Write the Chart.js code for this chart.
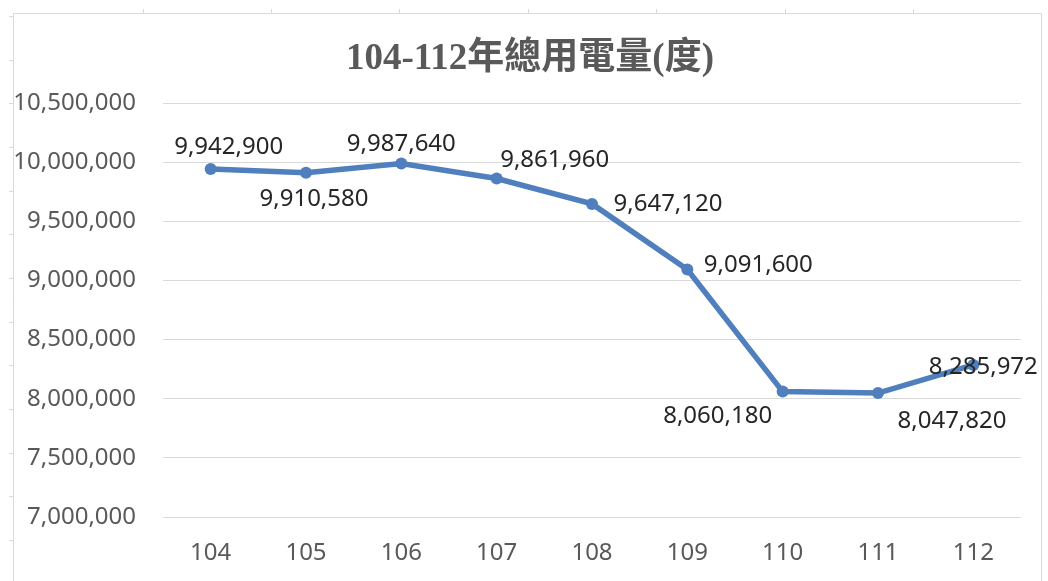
<!DOCTYPE html>
<html>
<head>
<meta charset="utf-8">
<script src="https://cdn.jsdelivr.net/npm/chart.js@4/dist/chart.umd.min.js"></script>
<style>
  html,body{margin:0;padding:0;background:#fff;}
  #wrap{width:1048px;height:581px;position:relative;}
</style>
</head>
<body>
<div id="wrap"><canvas id="c" width="1048" height="581"></canvas></div>
<script>
'use strict';

// data
var years=['104','105','106','107','108','109','110','111','112'];
var usage=[9942900,9910580,9987640,9861960,9647120,9091600,8060180,8047820,8285972];
var yTicks=[7000000,7500000,8000000,8500000,9000000,9500000,10000000,10500000];
var titleText='104-112年總用電量(度)';

// where each value label sits relative to its point (style only)
var labelShift=[[18,-22],[8,26],[0,-19],[58,-18],[76,0],[71,-4],[-65,25],[74,28],[10,2]];

var LINE='#4f7fbd';
var GRID='#d9d9d9';
var TXT='#595959';

function fmt(v){return v.toLocaleString('en-US');}

// sheet-like frame behind the chart, plus the title centred on the frame
var frame={
  id:'frame',
  beforeDraw:function(chart){
    var c=chart.ctx;c.save();
    c.strokeStyle=GRID;c.lineWidth=1;
    c.beginPath();
    c.moveTo(13.5,590);c.lineTo(13.5,13.5);c.lineTo(1041.5,13.5);c.lineTo(1041.5,590);
    c.stroke();
    c.beginPath();
    for(var i=0;i<7;i++){var x=142.5+i*128.4;c.moveTo(Math.round(x)+.5,9);c.lineTo(Math.round(x)+.5,13);}
    for(var k=0;k<14;k++){var y=16+k*43.67;c.moveTo(9,Math.round(y)+.5);c.lineTo(13,Math.round(y)+.5);}
    c.stroke();
    c.font='bold 37px "Liberation Serif","Noto Sans CJK TC",serif';
    c.fillStyle=TXT;c.textAlign='center';c.textBaseline='middle';
    c.fillText(titleText,530,59);
    c.restore();
  }
};

var valueLabels={
  id:'valueLabels',
  afterDatasetsDraw:function(chart){
    var c=chart.ctx;var meta=chart.getDatasetMeta(0);
    c.save();
    c.font='24px "Noto Sans", sans-serif';
    c.fillStyle='#262626';
    c.textAlign='center';c.textBaseline='middle';
    for(var i=0;i<meta.data.length;i++){
      var p=meta.data[i];var s=labelShift[i];
      c.fillText(fmt(usage[i]),p.x+s[0],p.y+s[1]);
    }
    c.restore();
  }
};

new Chart(document.getElementById('c'),{
  type:'line',
  data:{labels:years,datasets:[{
    data:usage,borderColor:LINE,backgroundColor:LINE,borderWidth:5.5,
    pointRadius:6,pointHoverRadius:6,pointBackgroundColor:LINE,pointBorderColor:LINE,pointBorderWidth:0,
    tension:0,fill:false
  }]},
  options:{
    responsive:false,animation:false,
    layout:{padding:{left:0,right:27,top:103,bottom:0}},
    plugins:{legend:{display:false},tooltip:{enabled:false},title:{display:false}},
    scales:{
      x:{
        offset:true,
        grid:{display:false,drawTicks:false,offset:true},border:{display:false},
        ticks:{color:TXT,font:{family:'"Noto Sans", sans-serif',size:24},padding:22},
        afterFit:function(s){s.height=64;}
      },
      y:{
        min:yTicks[0],max:yTicks[yTicks.length-1],
        grid:{color:GRID,lineWidth:1,drawTicks:false},border:{display:false},
        afterBuildTicks:function(s){s.ticks=yTicks.map(function(v){return{value:v};});},
        ticks:{color:TXT,font:{family:'"Noto Sans", sans-serif',size:24},padding:27,callback:function(v){return fmt(v);}},
        afterFit:function(s){s.width=163;}
      }
    }
  },
  plugins:[frame,valueLabels]
});
</script>
</body>
</html>
